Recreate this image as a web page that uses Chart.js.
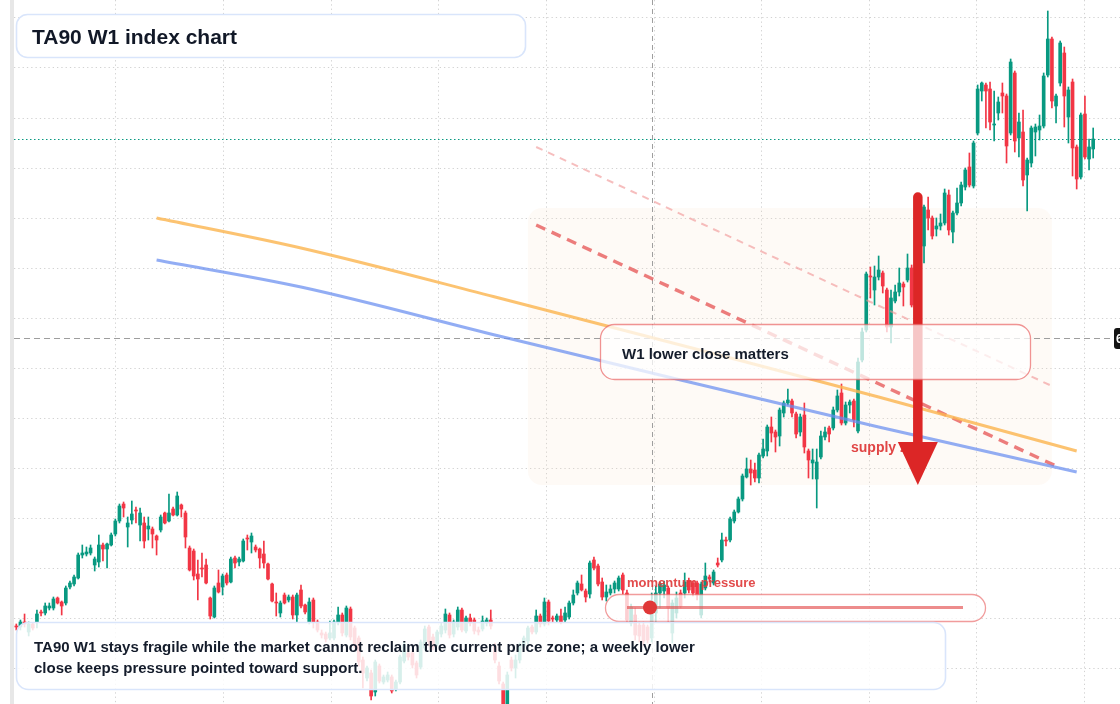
<!DOCTYPE html>
<html>
<head>
<meta charset="utf-8">
<title>TA90 W1 index chart</title>
<script src="https://cdn.jsdelivr.net/npm/chart.js@4.4.1/dist/chart.umd.min.js"></script>
<style>
  html, body { margin: 0; padding: 0; background: #ffffff; }
  canvas { display: block; }
</style>
</head>
<body>
<canvas id="chart" width="1120" height="704"></canvas>
<script>
// weekly candles, oldest first (index points)
const opens = [
  392,391,396,386,394,396,406,405,410,410, 420,416,415,431,434,440,463,464,465,453,
  456,473,469,473,484,497,514,491,498,508, 493,495,489,489,482,488,505,497,509,503,
  513,505,470,467,444,450,453,420,401,435, 431,443,436,460,456,457,480,476,471,469,
  464,454,434,416,405,423,418,421,403,428, 413,396,418,396,385,384,380,380,396,403,
  383,409,390,380,358,340,345,326,352,336, 338,341,329,336,357,365,365,355,351,370,
  391,381,374,384,388,403,384,391,408,387, 400,398,388,389,395,398,372,352,334,312,
  358,350,358,372,377,391,386,402,394,416, 400,398,402,398,401,415,425,434,427,424,
  458,452,436,421,425,429,429,443,425,395, 403,393,393,391,380,405,425,427,430,385,
  405,425,425,437,435,435,403,430,441,435, 455,458,478,478,497,506,519,541,549,548,
  540,562,567,591,586,582,605,615,617,604, 586,603,567,555,539,561,581,590,590,608,
  625,595,613,617,587,658,688,742,728,741, 745,728,691,717,726,734,738,750,713,745,
  772,808,800,789,792,795,823,786,805,815, 831,851,832,885,927,933,929,893,905,925,
  922,885,945,880,886,843,855,886,888,892, 943,979,912,935,965,901,936,871,841,904,
  859,869
];
const highs = [
  394,398,404,396,395,408,408,415,415,421, 421,417,432,437,443,465,473,471,473,461,
  483,475,475,485,499,514,516,501,517,511, 510,501,501,491,483,503,506,524,511,526,
  514,507,472,469,458,465,459,421,432,448, 444,445,461,462,461,479,483,485,473,470,
  477,455,435,425,417,425,423,423,425,433, 414,420,420,398,388,386,397,398,411,405,
  412,411,392,382,361,352,348,358,354,343, 346,343,338,363,376,368,367,357,378,392,
  393,384,388,395,409,405,398,411,410,402, 404,400,391,402,400,408,375,356,336,346,
  361,363,375,382,392,393,408,404,420,418, 402,404,409,411,417,428,437,443,429,457,
  461,454,440,433,433,437,442,445,428,414, 410,396,396,393,425,432,436,437,432,418,
  426,428,445,440,437,437,436,455,443,448, 460,485,481,501,508,521,544,560,558,555,
  565,579,593,601,588,610,617,629,619,606, 604,615,569,569,569,587,591,592,611,628,
  634,616,618,619,660,690,746,751,752,762, 747,730,728,733,750,736,764,753,748,775,
  813,821,802,800,804,829,828,807,830,836, 850,865,877,933,936,935,936,927,921,935,
  924,959,947,905,908,860,892,894,903,945, 1007,981,924,977,971,931,939,873,905,922,
  879,890
];
const lows = [
  388,388,391,382,388,390,402,403,408,408, 414,403,413,429,432,439,460,462,463,447,
  451,457,450,472,482,495,501,471,494,495, 477,470,478,470,463,486,494,496,502,502,
  501,470,447,438,418,441,434,399,400,425, 423,433,435,450,452,456,468,465,466,450,
  450,438,416,402,401,414,416,399,396,410, 404,394,390,386,380,376,378,378,393,382,
  381,378,370,352,330,337,318,322,335,334, 336,325,327,334,355,358,350,340,349,368,
  372,368,372,381,385,380,381,388,386,385, 392,384,383,387,392,389,355,334,306,308,
  347,340,355,370,374,384,384,391,392,393, 396,396,394,396,399,413,423,427,416,420,
  448,432,418,417,423,425,427,424,396,392, 378,376,372,375,376,396,410,420,396,375,
  400,410,420,425,422,418,400,428,436,433, 451,456,472,476,495,505,517,540,533,536,
  535,560,562,576,566,572,601,613,601,580, 582,565,540,539,510,559,578,576,588,606,
  593,593,605,591,585,656,686,720,713,738, 725,686,675,715,722,712,736,711,710,742,
  755,788,779,782,788,793,783,775,803,812, 828,831,830,883,917,890,888,877,898,905,
  855,883,866,861,832,807,851,862,878,890, 941,910,895,932,891,875,842,829,839,859,
  848,860
];
const closes = [
  391,396,394,394,390,404,405,412,412,419, 415,412,430,435,441,463,465,466,470,459,
  473,469,474,483,497,512,510,495,504,507, 505,477,492,484,478,501,495,505,503,522,
  509,481,448,442,439,449,435,402,430,426, 442,435,459,455,459,477,479,482,468,460,
  455,439,417,415,415,415,421,403,423,412, 406,416,396,388,383,379,385,396,403,385,
  410,381,373,356,345,350,322,356,337,341, 343,327,336,361,373,361,353,343,376,389,
  376,371,386,392,404,383,396,408,388,400, 395,387,386,397,398,392,358,337,312,343,
  350,358,373,380,390,386,402,394,416,397, 399,402,396,405,415,423,435,428,421,455,
  450,434,421,426,429,435,440,428,398,411, 383,382,377,378,412,425,434,433,410,415,
  420,412,436,428,425,423,434,442,439,446, 453,478,477,499,506,519,542,549,545,540,
  563,569,591,585,581,608,615,618,605,584, 601,571,558,558,556,582,586,584,608,622,
  595,613,616,598,656,686,744,741,741,748, 732,691,720,726,735,731,750,713,745,772,
  811,800,782,792,795,825,788,805,815,833, 848,833,875,929,935,927,896,894,916,922,
  872,956,877,896,838,858,890,891,892,942, 979,917,922,975,922,928,870,839,903,861,
  871,879
];

// smoothed averages: [candle index, level]
const slowAverage = [[34, 800], [69, 770], [117, 720], [175, 658], [209, 621], [257, 567]];
const fastAverage = [[34, 758], [69, 731], [117, 682], [161, 638], [209, 591], [257, 546]];
// drawn trendlines
const upperTrend = [[126, 871], [251, 632]];
const lowerTrend = [[126, 793], [252, 552]];

const supplyZone = { from: 124, to: 251, top: 810, bottom: 533 };
const arrowMove = { at: 218.5, from: 825, to: 533 };
const crosshair = { index: 154, level: 680 };

const titleText = 'TA90 W1 index chart';
const noteLines = [
  'TA90 W1 stays fragile while the market cannot reclaim the current price zone; a weekly lower',
  'close keeps pressure pointed toward support.'
];
const calloutText = 'W1 lower close matters';
const zoneText = 'supply zone';
const momentumText = 'momentum pressure';

const GREEN = '#089981';
const RED = '#f23645';
const FONT = '"Liberation Sans", Arial, sans-serif';

const idx = opens.map((_, i) => i);
const isUp = i => closes[i] >= opens[i];
const candleColor = ctx => isUp(ctx.dataIndex) ? GREEN : RED;

const wickData = idx.map(i => ({ x: i, y: [lows[i], highs[i]] }));
const bodyData = idx.map(i => ({ x: i, y: [Math.min(opens[i], closes[i]), Math.max(opens[i], closes[i])] }));
const toXY = pts => pts.map(([x, y]) => ({ x, y }));

// vertical grid every ~26 weeks
const xGrid = [];
for (let k = 0; k < 10; k++) xGrid.push(24.16 + 26.08 * k);

function rounded(ctx, x, y, w, h, r) {
  ctx.beginPath();
  ctx.roundRect(x, y, w, h, r);
}

const overlay = {
  id: 'overlay',
  beforeDatasetsDraw(chart) {
    const { ctx, scales: { x, y }, chartArea: a } = chart;
    ctx.save();
    // left strip
    ctx.fillStyle = '#e7e7e7';
    ctx.fillRect(10, 0, 4, chart.height);

    // supply zone
    const zx0 = x.getPixelForValue(supplyZone.from), zx1 = x.getPixelForValue(supplyZone.to);
    const zy0 = y.getPixelForValue(supplyZone.top), zy1 = y.getPixelForValue(supplyZone.bottom);
    ctx.fillStyle = 'rgba(248, 222, 200, 0.16)';
    rounded(ctx, zx0, zy0, zx1 - zx0, zy1 - zy0, 14);
    ctx.fill();

    // crosshair
    ctx.strokeStyle = '#9e9e9e';
    ctx.lineWidth = 1;
    ctx.setLineDash([5, 4]);
    const cx = Math.round(x.getPixelForValue(crosshair.index)) + 0.5;
    ctx.beginPath(); ctx.moveTo(cx, a.top); ctx.lineTo(cx, a.bottom); ctx.stroke();
    const cy = Math.round(y.getPixelForValue(crosshair.level)) + 0.5;
    ctx.setLineDash([6, 4]);
    ctx.beginPath(); ctx.moveTo(a.left, cy); ctx.lineTo(a.right - 6, cy); ctx.stroke();

    // last price line
    const ly = Math.round(y.getPixelForValue(closes[closes.length - 1])) + 0.5;
    ctx.strokeStyle = GREEN;
    ctx.setLineDash([1.5, 2.5]);
    ctx.beginPath(); ctx.moveTo(a.left, ly); ctx.lineTo(a.right, ly); ctx.stroke();
    ctx.restore();
  },
  afterDatasetsDraw(chart) {
    const { ctx, scales: { x, y }, chartArea: a } = chart;
    ctx.save();

    // supply zone label
    ctx.font = 'bold 14px ' + FONT;
    ctx.fillStyle = '#e04545';
    ctx.textBaseline = 'alphabetic';
    ctx.fillText(zoneText, 851, 452);

    // projected move arrow
    const ax = x.getPixelForValue(arrowMove.at);
    const ay0 = y.getPixelForValue(arrowMove.from), ay1 = y.getPixelForValue(arrowMove.to);
    ctx.strokeStyle = '#dc2626';
    ctx.fillStyle = '#dc2626';
    ctx.lineWidth = 9.5;
    ctx.lineCap = 'round';
    ctx.beginPath(); ctx.moveTo(ax, ay0 + 4); ctx.lineTo(ax, ay1 - 40); ctx.stroke();
    ctx.beginPath();
    ctx.moveTo(ax - 20, ay1 - 43); ctx.lineTo(ax + 20, ay1 - 43); ctx.lineTo(ax, ay1);
    ctx.closePath(); ctx.fill();

    // callout box
    ctx.lineCap = 'butt';
    rounded(ctx, 600.5, 324.5, 430, 55, 14);
    ctx.fillStyle = 'rgba(255,255,255,0.74)';
    ctx.fill();
    ctx.strokeStyle = 'rgba(232, 90, 90, 0.65)';
    ctx.lineWidth = 1.3;
    ctx.stroke();
    ctx.font = 'bold 15px ' + FONT;
    ctx.fillStyle = '#141c2b';
    ctx.fillText(calloutText, 622, 359);

    // momentum gauge
    rounded(ctx, 605.5, 594.5, 380, 27, 13.5);
    ctx.fillStyle = 'rgba(255,255,255,0.76)';
    ctx.fill();
    ctx.strokeStyle = 'rgba(232, 90, 90, 0.6)';
    ctx.lineWidth = 1.3;
    ctx.stroke();
    ctx.strokeStyle = 'rgba(226, 70, 70, 0.62)';
    ctx.lineWidth = 3;
    ctx.beginPath(); ctx.moveTo(627, 607.5); ctx.lineTo(963, 607.5); ctx.stroke();
    ctx.fillStyle = '#e03838';
    ctx.beginPath(); ctx.arc(650, 607.5, 7, 0, Math.PI * 2); ctx.fill();
    ctx.font = 'bold 13px ' + FONT;
    ctx.fillStyle = 'rgba(224, 60, 60, 0.92)';
    ctx.fillText(momentumText, 627, 587);

    // note box
    rounded(ctx, 16.5, 622.5, 929, 67, 12);
    ctx.fillStyle = 'rgba(255,255,255,0.84)';
    ctx.fill();
    ctx.strokeStyle = '#d9e5fb';
    ctx.lineWidth = 1.6;
    ctx.stroke();
    ctx.font = 'bold 15px ' + FONT;
    ctx.fillStyle = '#141c2b';
    ctx.fillText(noteLines[0], 34, 652);
    ctx.fillText(noteLines[1], 34, 673);

    // title box
    rounded(ctx, 16.5, 14.5, 509, 43, 11);
    ctx.fillStyle = '#ffffff';
    ctx.fill();
    ctx.strokeStyle = '#d9e5fb';
    ctx.lineWidth = 1.6;
    ctx.stroke();
    ctx.font = 'bold 21px ' + FONT;
    ctx.fillStyle = '#111827';
    ctx.fillText(titleText, 32, 44);

    // crosshair price tag (cut off at the right edge)
    const cy = y.getPixelForValue(crosshair.level);
    ctx.fillStyle = '#131313';
    rounded(ctx, 1114, cy - 10, 24, 21, 3);
    ctx.fill();
    ctx.font = 'bold 12px ' + FONT;
    ctx.fillStyle = '#ffffff';
    ctx.fillText(crosshair.level.toFixed(2), 1116, cy + 4.5);
    ctx.restore();
  }
};

new Chart(document.getElementById('chart'), {
  type: 'bar',
  data: {
    datasets: [
      { type: 'line', data: toXY(slowAverage), borderColor: 'rgba(251, 182, 82, 0.82)', borderWidth: 3,
        pointRadius: 0, tension: 0.4, cubicInterpolationMode: 'monotone', order: 0 },
      { type: 'line', data: toXY(fastAverage), borderColor: 'rgba(104, 142, 240, 0.72)', borderWidth: 3,
        pointRadius: 0, tension: 0.4, cubicInterpolationMode: 'monotone', order: 0 },
      { type: 'line', data: toXY(lowerTrend), borderColor: 'rgba(232, 96, 96, 0.82)', borderWidth: 3.4,
        borderDash: [10, 7], pointRadius: 0, order: 0 },
      { type: 'line', data: toXY(upperTrend), borderColor: 'rgba(240, 150, 150, 0.62)', borderWidth: 2,
        borderDash: [7, 6], pointRadius: 0, order: 0 },
      { type: 'bar', data: bodyData, backgroundColor: candleColor, barThickness: 3, minBarLength: 1,
        grouped: false, order: 1 },
      { type: 'bar', data: wickData, backgroundColor: candleColor, barThickness: 1,
        grouped: false, order: 2 }
    ]
  },
  options: {
    responsive: false,
    animation: false,
    devicePixelRatio: 1,
    layout: { padding: { left: 14, right: 0, top: 0, bottom: 0 } },
    plugins: { legend: { display: false }, tooltip: { enabled: false } },
    scales: {
      x: {
        type: 'linear', min: -0.557, max: 267.5, offset: false,
        afterBuildTicks: scale => { scale.ticks = xGrid.map(v => ({ value: v })); },
        grid: { color: '#d2d2d2', drawTicks: false, offset: false },
        border: { display: false, dash: [1.3, 3] },
        ticks: { display: false }
      },
      y: {
        type: 'linear', min: 314, max: 1018,
        grid: { color: '#d2d2d2', drawTicks: false },
        border: { display: false, dash: [1.3, 3] },
        ticks: { display: false, stepSize: 50, includeBounds: false }
      }
    }
  },
  plugins: [overlay]
});
</script>
</body>
</html>
